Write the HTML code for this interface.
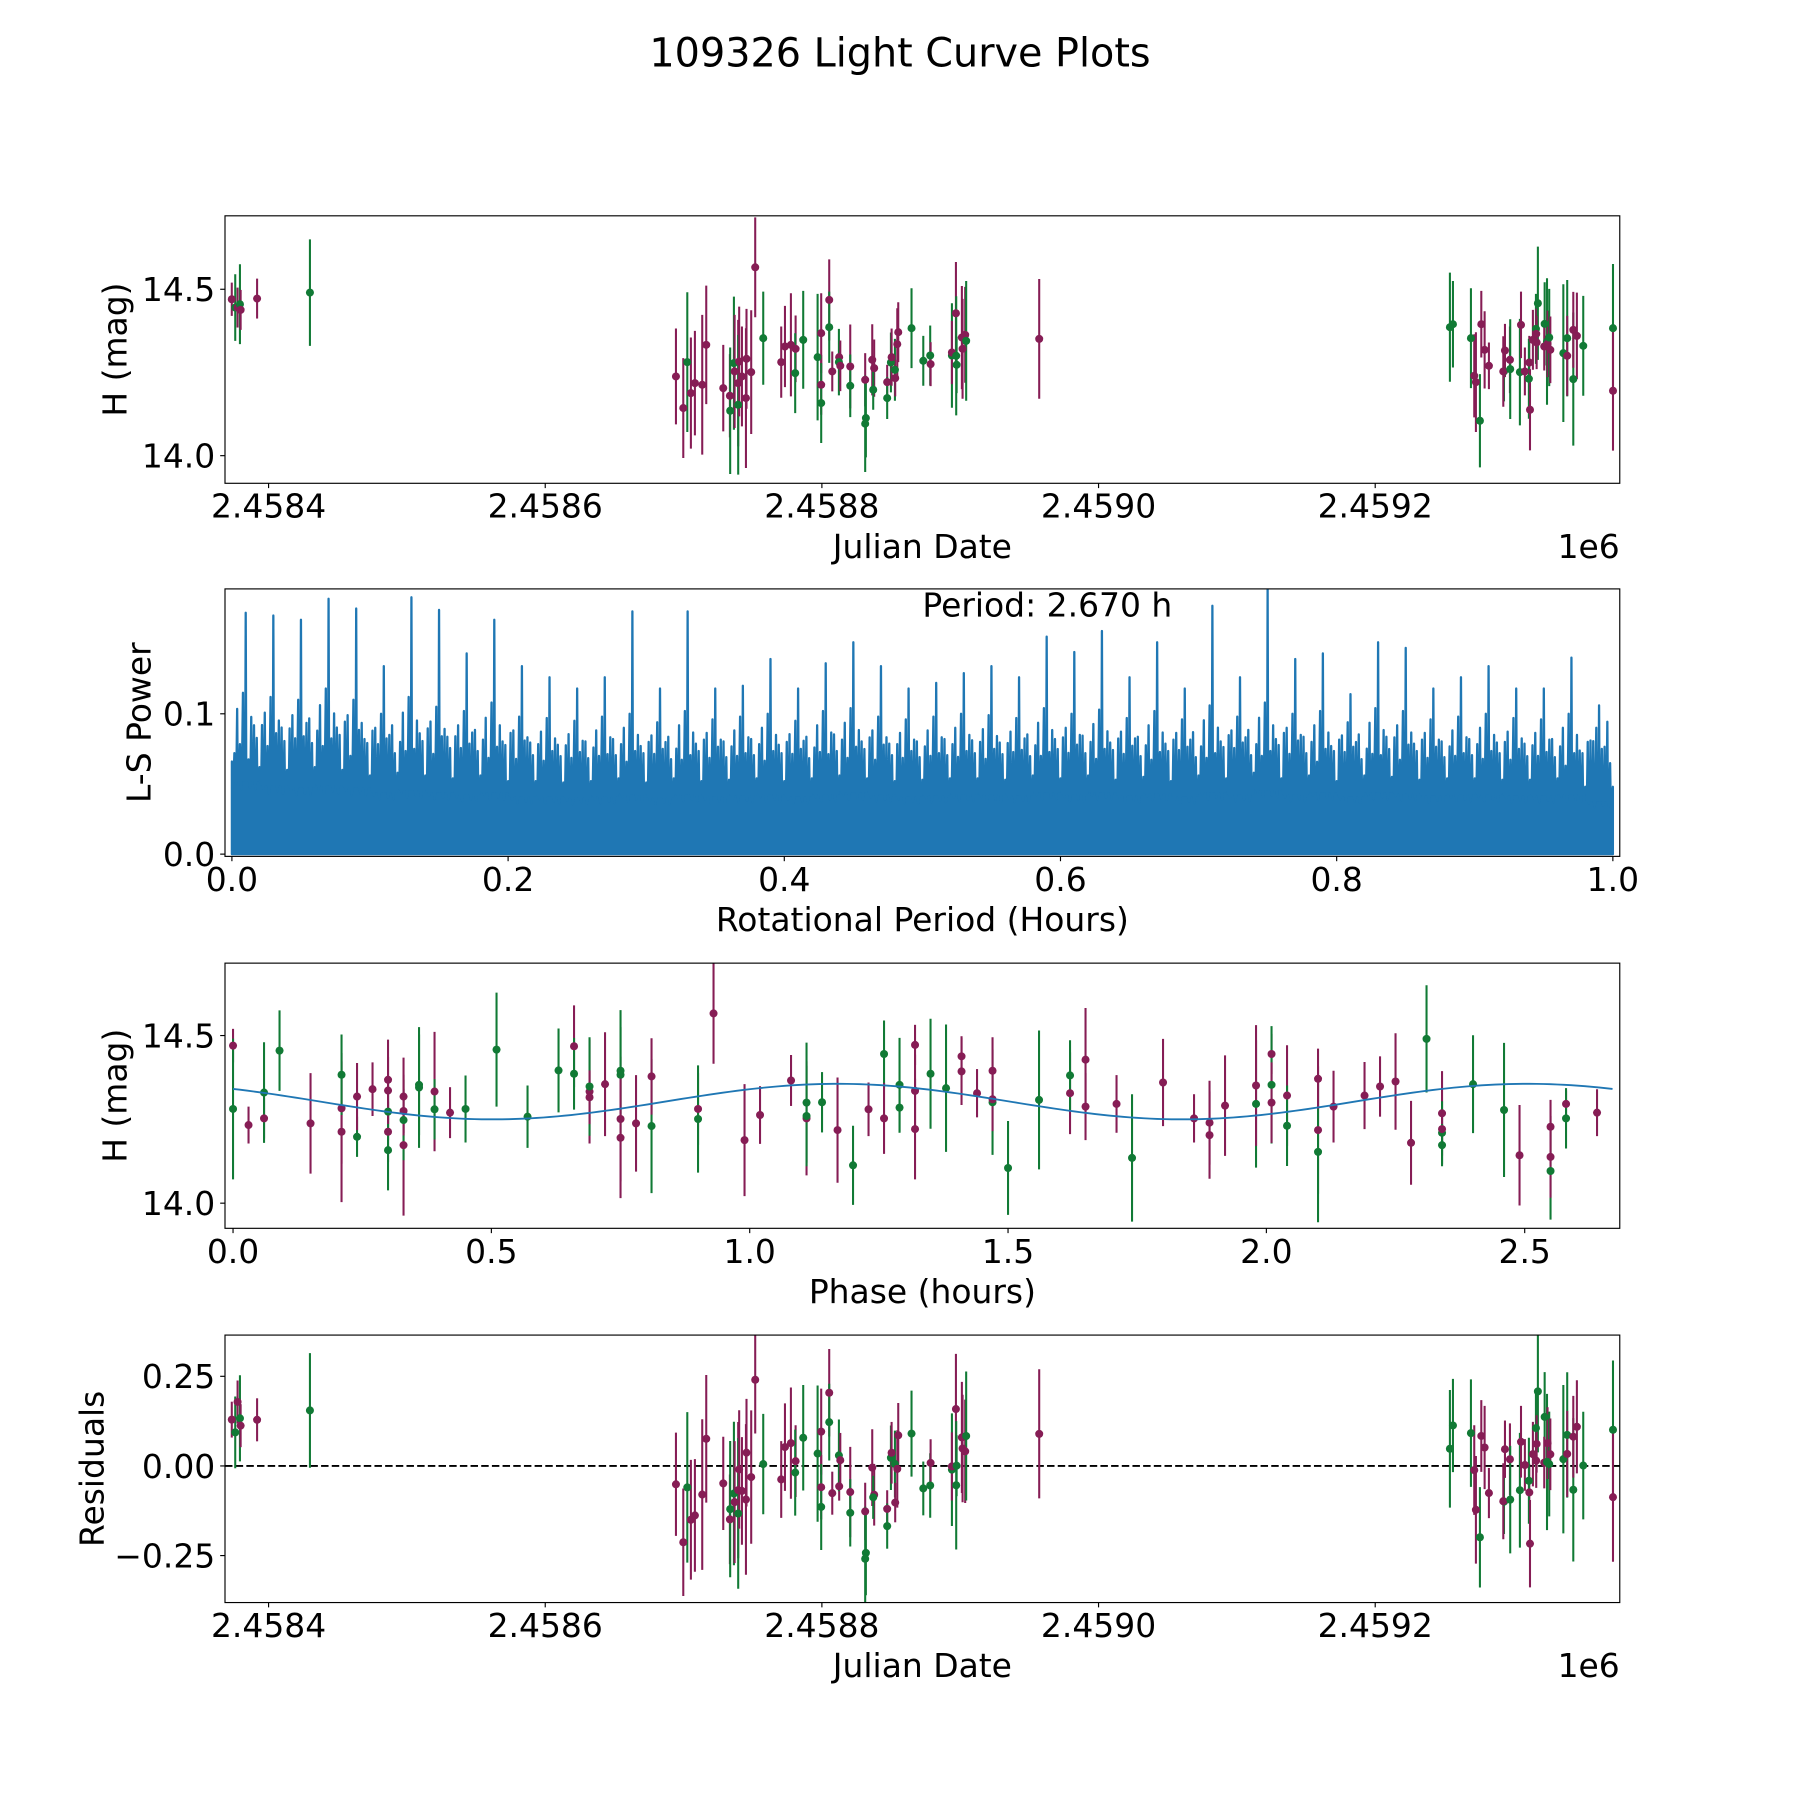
<!DOCTYPE html>
<html><head><meta charset="utf-8"><title>109326 Light Curve Plots</title>
<style>html,body{margin:0;padding:0;background:#fff;}svg{display:block;font-family:"DejaVu Sans","Liberation Sans",sans-serif;}</style>
</head><body>
<svg id="fig" xmlns="http://www.w3.org/2000/svg" width="1800" height="1800" viewBox="0 0 1568 1568">
<rect x="0" y="0" width="1568" height="1568" fill="#fff"/>
<text x="784" y="58" font-size="34.6" text-anchor="middle" fill="#000">109326 Light Curve Plots</text>
</svg>
<script>
// ---------- observation data (JD offset from 2458000) ----------
const jdOffset = [373.4,375.9,377.6,379.3,379.8,391.7,429.9,
694.5,699.8,702.7,705.3,708.2,713.5,716.4,728.7,733.5,733.7,736.4,736.9,739.5,739.5,740.2,742.2,745.1,745.5,748.9,751.8,757.6,770.6,773.3,777.6,781.0,780.7,786.5,796.9,799.5,799.5,799.5,805.3,805.3,807.5,812.5,812.3,813.3,820.5,820.5,831.3,831.8,831.3,836.4,837.8,837.1,847.2,847.2,849.9,850.4,852.8,853.0,854.5,855.2,864.8,873.3,878.3,878.6,894.0,894.0,896.9,897.1,897.4,901.2,901.7,903.6,904.3,957.1,
1254.0,1256.2,1269.2,1271.6,1272.8,1275.7,1276.7,1279.1,1282.2,1293.1,1292.6,1293.8,1297.4,1297.6,1304.6,1305.4,1308.2,1311.4,1311.1,1311.9,1314.0,1316.2,1316.4,1317.6,1316.7,1322.5,1322.2,1324.2,1324.6,1325.8,1326.6,1336.0,1338.8,1338.8,1343.2,1343.2,1345.8,1350.4,1371.9,1371.9];
const magH = [14.47,14.445,14.445,14.455,14.438,14.472,14.49,
14.238,14.143,14.281,14.188,14.218,14.213,14.333,14.203,14.18,14.135,14.278,14.253,14.218,14.153,14.283,14.238,14.173,14.291,14.251,14.566,14.353,14.281,14.328,14.333,14.321,14.248,14.348,14.296,14.368,14.213,14.158,14.468,14.386,14.253,14.296,14.281,14.27,14.268,14.21,14.228,14.113,14.096,14.288,14.263,14.198,14.221,14.173,14.28,14.296,14.258,14.233,14.335,14.371,14.383,14.285,14.301,14.275,14.301,14.31,14.428,14.3,14.273,14.355,14.321,14.363,14.345,14.351,
14.386,14.395,14.353,14.24,14.221,14.105,14.395,14.318,14.27,14.253,14.253,14.316,14.288,14.26,14.251,14.393,14.253,14.28,14.231,14.138,14.348,14.381,14.366,14.458,14.34,14.396,14.328,14.343,14.336,14.355,14.318,14.308,14.353,14.3,14.23,14.378,14.36,14.33,14.383,14.195];
const magErr = [0.05,0.10,0.06,0.12,0.06,0.06,0.16,
0.144,0.15,0.21,0.167,0.157,0.21,0.178,0.13,0.125,0.19,0.2,0.17,0.19,0.21,0.165,0.15,0.21,0.15,0.186,0.15,0.14,0.107,0.122,0.155,0.1,0.12,0.147,0.19,0.12,0.09,0.12,0.122,0.107,0.06,0.04,0.1,0.076,0.126,0.094,0.08,0.118,0.145,0.107,0.086,0.06,0.052,0.063,0.09,0.086,0.093,0.055,0.108,0.09,0.12,0.075,0.09,0.066,0.157,0.095,0.154,0.179,0.085,0.155,0.15,0.144,0.18,0.18,
0.164,0.13,0.15,0.125,0.15,0.14,0.1,0.116,0.07,0.09,0.106,0.08,0.1,0.15,0.16,0.1,0.072,0.08,0.12,0.122,0.09,0.105,0.076,0.17,0.08,0.125,0.072,0.19,0.1,0.146,0.1,0.207,0.175,0.12,0.2,0.114,0.13,0.15,0.193,0.18];
const band = ["r","g","r","g","r","r","g",
"r","r","g","r","r","r","r","r","r","g","g","r","r","g","r","r","r","r","r","r","g","r","r","r","r","g","g","g","r","r","g","r","g","r","r","g","r","r","g","r","g","g","r","r","g","r","g","g","r","g","r","r","r","g","g","g","r","g","r","r","g","g","r","r","r","g","r",
"g","g","g","r","r","g","r","r","r","g","r","r","r","g","g","r","r","r","g","r","r","g","r","g","r","g","r","g","r","g","r","g","g","r","g","r","r","g","g","r"];
// ---------- fitted model & period ----------
const periodHours = [2.670];
const modelParams = [14.303, 0.053, 1.17]; // mean, amplitude, phase of maximum (h)
const jdBase = [2458000];
// ---------- Lomb-Scargle periodogram (binned, 0.02 h bins) ----------
const lsPeriod = [0.00,0.02,0.04,0.06,0.08,0.10,0.12,0.14,0.16,0.18,0.20,0.22,0.24,0.26,0.28,0.30,0.32,0.34,0.36,0.38,0.40,0.42,0.44,0.46,0.48,0.50,0.52,0.54,0.56,0.58,0.60,0.62,0.64,0.66,0.68,0.70,0.72,0.74,0.76,0.78,0.80,0.82,0.84,0.86,0.88,0.90,0.92,0.94,0.96,0.98];
const lsPeak = [0.172,0.170,0.167,0.182,0.175,0.134,0.183,0.174,0.143,0.167,0.134,0.126,0.118,0.126,0.173,0.118,0.173,0.118,0.120,0.139,0.118,0.136,0.151,0.134,0.118,0.122,0.129,0.134,0.126,0.155,0.144,0.159,0.126,0.151,0.118,0.177,0.126,0.189,0.139,0.143,0.114,0.151,0.147,0.118,0.126,0.134,0.118,0.118,0.140,0.106];
const lsMid = [0.115,0.112,0.110,0.118,0.110,0.100,0.112,0.105,0.102,0.108,0.098,0.097,0.095,0.098,0.100,0.094,0.102,0.096,0.098,0.100,0.095,0.102,0.104,0.098,0.096,0.098,0.100,0.099,0.097,0.104,0.100,0.103,0.097,0.102,0.096,0.106,0.098,0.108,0.100,0.102,0.094,0.104,0.102,0.096,0.098,0.100,0.097,0.096,0.100,0.090];
const lsBody = [0.066,0.062,0.060,0.062,0.060,0.056,0.058,0.056,0.054,0.056,0.052,0.052,0.051,0.052,0.054,0.051,0.054,0.052,0.053,0.054,0.052,0.054,0.056,0.054,0.052,0.053,0.054,0.054,0.053,0.056,0.054,0.056,0.053,0.055,0.052,0.056,0.054,0.058,0.054,0.056,0.052,0.056,0.055,0.053,0.054,0.054,0.053,0.053,0.054,0.048];
// ---------- tick arrays ----------
const jdTicks = [2458400,2458600,2458800,2459000,2459200];
const jdTickLabels = ["2.4584","2.4586","2.4588","2.4590","2.4592"];
const magTicks = [14.0,14.5];
const magTickLabels = ["14.0","14.5"];
const lsXTicks = [0,0.2,0.4,0.6,0.8,1.0];
const lsXTickLabels = ["0.0","0.2","0.4","0.6","0.8","1.0"];
const lsYTicks = [0,0.1];
const lsYTickLabels = ["0.0","0.1"];
const phaseTicks = [0,0.5,1.0,1.5,2.0,2.5];
const phaseTickLabels = ["0.0","0.5","1.0","1.5","2.0","2.5"];
const residTicks = [-0.25,0,0.25];
const residTickLabels = ["\u22120.25","0.00","0.25"];

const NS = "http://www.w3.org/2000/svg";
const svg = document.getElementById("fig");
const COL = {r:"#861d55", g:"#117a35"};
const FS = 28.7;

function el(tag, attrs, parent){
  const e = document.createElementNS(NS, tag);
  for (const k in attrs) e.setAttribute(k, attrs[k]);
  (parent||svg).appendChild(e);
  return e;
}
function makeAxes(id, box, xlim, ylim){
  const g = el("g", {});
  
  
  const cp = el("clipPath", {id: id+"-clip"}, g);
  el("rect", {x: box.x0, y: box.y0, width: box.x1-box.x0, height: box.y1-box.y0}, cp);
  const plot = el("g", {"clip-path": "url(#"+id+"-clip)"}, g);
  
  
  const sx = v => box.x0 + (v - xlim[0])/(xlim[1]-xlim[0])*(box.x1-box.x0);
  const sy = v => box.y1 - (v - ylim[0])/(ylim[1]-ylim[0])*(box.y1-box.y0);
  return {g, plot, sx, sy, box};
}
function frame(ax, name){
  const r = el("rect", {x: ax.box.x0, y: ax.box.y0, width: ax.box.x1-ax.box.x0, height: ax.box.y1-ax.box.y0, fill:"none", stroke:"#000", "stroke-width":1}, ax.g);
  
  
}
function xTicks(ax, ticks, labels, name){
  ticks.forEach((t,i)=>{
    const x = ax.sx(t);
    el("line", {x1:x, x2:x, y1:ax.box.y1, y2:ax.box.y1+4.2, stroke:"#000","stroke-width":1}, ax.g);
    const tx = el("text", {x:x, y:ax.box.y1+30, "font-size":FS, "text-anchor":"middle"}, ax.g);
    tx.textContent = labels[i];
    
    
  });
}
function yTicks(ax, ticks, labels, name){
  ticks.forEach((t,i)=>{
    const y = ax.sy(t);
    el("line", {x1:ax.box.x0-4.2, x2:ax.box.x0, y1:y, y2:y, stroke:"#000","stroke-width":1}, ax.g);
    const tx = el("text", {x:ax.box.x0-8.5, y:y+10.3, "font-size":FS, "text-anchor":"end"}, ax.g);
    tx.textContent = labels[i];
    
    
  });
}
function xLabel(ax, text, name){
  const t = el("text", {x:(ax.box.x0+ax.box.x1)/2, y:ax.box.y1+65, "font-size":FS, "text-anchor":"middle"}, ax.g);
  t.textContent = text;
  
  
}
function yLabel(ax, text, cx, name){
  const cy = (ax.box.y0+ax.box.y1)/2;
  const t = el("text", {x:cx, y:cy, "font-size":FS, "text-anchor":"middle", "dominant-baseline":"central", transform:"rotate(-90 "+cx+" "+cy+")"}, ax.g);
  t.textContent = text;
  
  
}
function offsetText(ax, name){
  const t = el("text", {x:ax.box.x1, y:ax.box.y1+65, "font-size":FS, "text-anchor":"end"}, ax.g);
  t.textContent = "1e6";
  
  
}
function errPoints(ax, xs, ys, es, bands, name){
  xs.forEach((xv,i)=>{
    const x = ax.sx(xv), col = COL[bands[i]];
    const ln = el("line", {x1:x, x2:x, y1:ax.sy(ys[i]+es[i]), y2:ax.sy(ys[i]-es[i]), stroke:col, "stroke-width":1.8}, ax.plot);
    
    
  });
  xs.forEach((xv,i)=>{
    const c = el("circle", {cx:ax.sx(xv), cy:ax.sy(ys[i]), r:3.5, fill:COL[bands[i]]}, ax.plot);
    
    
  });
}
function model(ph){
  return modelParams[0] + modelParams[1]*Math.cos(2*Math.PI*2*(ph-modelParams[2])/periodHours[0]);
}

const jd = jdOffset.map(v => v + jdBase[0]);
const t0 = jd[0];
const phase = jd.map(v => (((v - t0)*24) % periodHours[0] + periodHours[0]) % periodHours[0]);
const resid = magH.map((m,i) => m - model(phase[i]));

// ---------- Panel 1: light curve ----------
const ax1 = makeAxes("light-curve-axes", {x0:196,x1:1411,y0:188,y1:421}, [2458368.5,2459376.8], [13.917,14.7207]);
errPoints(ax1, jd, magH, magErr, band, "light-curve");
frame(ax1,"light-curve");
xTicks(ax1, jdTicks, jdTickLabels, "light-curve");
yTicks(ax1, magTicks, magTickLabels, "light-curve");
xLabel(ax1, "Julian Date", "light-curve-x-axis-title");
yLabel(ax1, "H (mag)", 100, "light-curve-y-axis-title");
offsetText(ax1, "light-curve-x-offset-label");

// ---------- Panel 2: periodogram ----------
const ax2 = makeAxes("periodogram-axes", {x0:196,x1:1411,y0:513,y1:746}, [-0.005,1.005], [-0.0016,0.189]);
{
  const w = 0.02, n = lsPeriod.length;
  let d = "M"+ax2.sx(lsPeriod[0])+","+ax2.sy(0);
  const pt = (p,v)=>" L"+ax2.sx(p).toFixed(2)+","+ax2.sy(v).toFixed(2);
  lsPeriod.forEach((p,i)=>{
    const nb = lsMid[(i+1)%n], pb = lsMid[(i+n-1)%n];
    const b = lsBody[i];
    const f = [0.04,0.09,0.14,0.19,0.24,0.29,0.34,0.40,0.46,0.50,0.55,0.60,0.65,0.70,0.75,0.80,0.85,0.90,0.95];
    const h = [b*0.9, pb*0.8, b*0.75, lsMid[i]*0.9, b*0.85, nb*0.7, b*0.7, lsMid[i], b*0.8, lsPeak[i], b*0.9, pb*0.75, b*0.72, lsMid[i]*0.85, b*0.95, nb*0.82, b*0.7, lsMid[i]*0.72, b*0.85];
    d += pt(p, b);
    f.forEach((ff,k)=>{ d += pt(p+ff*w, h[k]); d += pt(p+(ff+0.02)*w, b*0.8); });
  });
  const last = lsPeriod[n-1]+w;
  d += pt(last, lsBody[n-1]) + pt(last, 0) + " Z";
  const path = el("path", {d:d, fill:"#1f77b4", stroke:"#1f77b4", "stroke-width":2.0, "stroke-linejoin":"round"}, ax2.plot);
  
  
}
frame(ax2,"periodogram");
xTicks(ax2, lsXTicks, lsXTickLabels, "periodogram");
yTicks(ax2, lsYTicks, lsYTickLabels, "periodogram");
xLabel(ax2, "Rotational Period (Hours)", "periodogram-x-axis-title");
yLabel(ax2, "L-S Power", 121, "periodogram-y-axis-title");
{
  const t = el("text", {x:ax2.sx(0.5), y:537, "font-size":FS}, ax2.g);
  t.textContent = "Period: " + periodHours[0].toFixed(3) + " h";
  
  
}

// ---------- Panel 3: phased light curve ----------
const ax3 = makeAxes("phase-axes", {x0:196,x1:1411,y0:839,y1:1070}, [-0.01556,2.684], [13.925,14.716]);
errPoints(ax3, phase, magH, magErr, band, "phase");
{
  let d = "";
  for (let k=0;k<=200;k++){
    const ph = periodHours[0]*k/200;
    d += (k?" L":"M")+ax3.sx(ph).toFixed(2)+","+ax3.sy(model(ph)).toFixed(2);
  }
  const p = el("path", {d:d, fill:"none", stroke:"#1f77b4", "stroke-width":1.6}, ax3.plot);
  
  
}
frame(ax3,"phase");
xTicks(ax3, phaseTicks, phaseTickLabels, "phase");
yTicks(ax3, magTicks, magTickLabels, "phase");
xLabel(ax3, "Phase (hours)", "phase-x-axis-title");
yLabel(ax3, "H (mag)", 100, "phase-y-axis-title");

// ---------- Panel 4: residuals ----------
const ax4 = makeAxes("residuals-axes", {x0:196,x1:1411,y0:1163,y1:1396}, [2458368.5,2459376.8], [-0.381,0.365]);
{
  const l = el("line", {x1:ax4.box.x0, x2:ax4.box.x1, y1:ax4.sy(0), y2:ax4.sy(0), stroke:"#000", "stroke-width":1.6, "stroke-dasharray":"6.5,2.8"}, ax4.plot);
  
  
}
errPoints(ax4, jd, resid, magErr, band, "residual");
frame(ax4,"residuals");
xTicks(ax4, jdTicks, jdTickLabels, "residuals");
yTicks(ax4, residTicks, residTickLabels, "residuals");
xLabel(ax4, "Julian Date", "residuals-x-axis-title");
yLabel(ax4, "Residuals", 80, "residuals-y-axis-title");
offsetText(ax4, "residuals-x-offset-label");
</script>
</body></html>
